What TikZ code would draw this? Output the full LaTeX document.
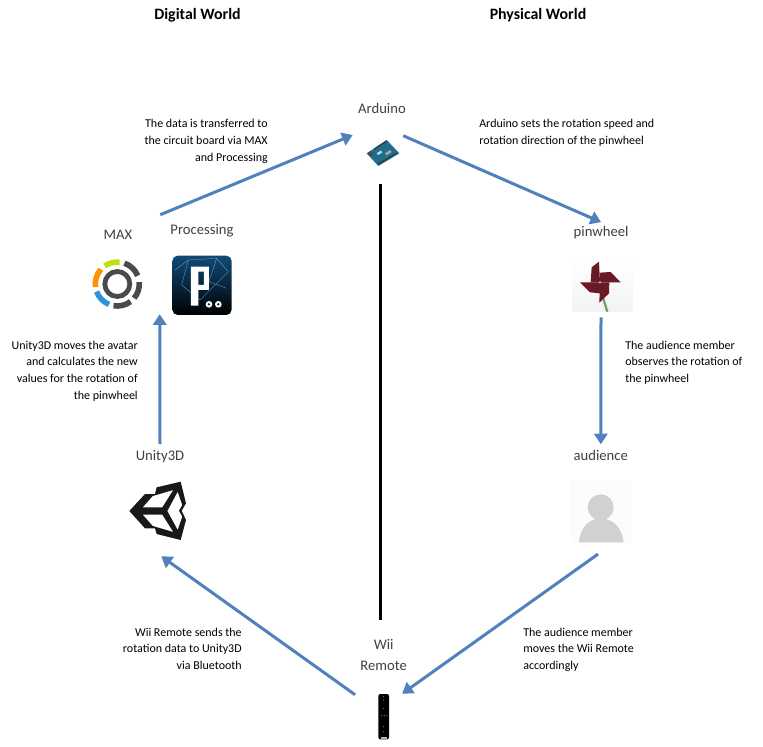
\documentclass[tikz,border=0pt]{standalone}
\usepackage{fontspec}
\setmainfont{Carlito}
\usepackage{xcolor}
\usetikzlibrary{arrows.meta, positioning}
\definecolor{flowblue}{HTML}{4F81BD}
\definecolor{namegray}{HTML}{404040}
\definecolor{boardteal}{HTML}{1F6C8C}
\definecolor{wheelred}{HTML}{6A1A26}
\definecolor{maxdark}{HTML}{4A4A4A}
\definecolor{processnavy}{HTML}{0F4A78}
\definecolor{stemgreen}{HTML}{7F9A6A}

\begin{document}
\begin{tikzpicture}[
        x=0.75pt, y=-0.75pt,
        worldtitle/.style = {inner sep=0pt, font=\fontsize{11.9}{14}\selectfont\bfseries},
        namelabel/.style = {inner sep=0pt, align=center, text=namegray, font=\fontsize{11}{15.75}\selectfont},
        caption/.style = {inner sep=0pt, font=\fontsize{9}{12.6}\selectfont},
        leftcaption/.style = {caption, anchor=north east, align=right},
        rightcaption/.style = {caption, anchor=north west, align=left},
        icon/.style = {inner sep=0pt, minimum width=#1},
        flow/.style = {draw=flowblue, line width=2.25pt, -{Triangle[length=8pt, width=10pt]}},
        divider/.style = {draw=black, line width=2.25pt},
        zoomed/.style = {shift={#1}, scale=0.3333}
    ]
        \useasboundingbox (0,0) rectangle (763,746);

        % World Titles
        \node (digital) [worldtitle] at (197.5,15.5) {Digital World};
        \node (physical) [worldtitle] at (538,15.5) {Physical World};

        % Icon Places
        \node (arduino) [icon=25.5pt, minimum height=21pt] at (383,153) {};
        \node (maxicon) [icon=39pt, minimum height=39pt] at (117.3,284) {};
        \node (processing) [icon=45pt, minimum height=45pt] at (202,285.3) {};
        \node (pinwheel) [icon=45pt, minimum height=39pt] at (602.7,285.5) {};
        \node (audience) [icon=46.5pt, minimum height=47pt] at (600.8,511) {};
        \node (unity) [icon=49.5pt, minimum height=45pt] at (160,511) {};
        \node (wii) [icon=8pt, minimum height=34.5pt] at (383.7,716.7) {};

        % Names
        \node (arduinolabel) [namelabel, above=18.8pt of arduino, xshift=-0.8pt] {Arduino};
        \node (maxlabel) [namelabel, above=13.3pt of maxicon, xshift=0.5pt] {MAX};
        \node (processinglabel) [namelabel, above=13pt of processing] {Processing};
        \node (pinwheellabel) [namelabel, above=15pt of pinwheel, xshift=-1.2pt] {pinwheel};
        \node (audiencelabel) [namelabel, above=13.7pt of audience] {audience};
        \node (unitylabel) [namelabel, above=13.2pt of unity] {Unity3D};
        \node (wiilabel) [namelabel, above=17pt of wii] {Wii\\Remote};

        % Captions
        \node (datacaption) [leftcaption] at (268,119) {The data is transferred to\\the circuit board via MAX\\and Processing};
        \node (unitycaption) [leftcaption] at (138,340.5) {Unity3D moves the avatar\\and calculates the new\\values for the rotation of\\the pinwheel};
        \node (bluecaption) [leftcaption] at (242,627.5) {Wii Remote sends the\\rotation data to Unity3D\\via Bluetooth};
        \node (speedcaption) [rightcaption] at (479,119) {Arduino sets the rotation speed and\\rotation direction of the pinwheel};
        \node (observecaption) [rightcaption] at (625,340.5) {The audience member\\observes the rotation of\\the pinwheel};
        \node (movecaption) [rightcaption] at (523,627.5) {The audience member\\moves the Wii Remote\\accordingly};

        % Arduino board
        \begin{scope}[zoomed={(340,90)}]
            \fill[boardteal] (80,190) -- (140,150) -- (178,190) -- (115,228) -- cycle;
            \draw[black!80, line width=0.8pt] (102,178) -- (140,153);
            \draw[black!80, line width=0.8pt] (115,222) -- (170,190);
            \fill[black!70] (82,190) -- (92,183) -- (100,192) -- (90,199) -- cycle;
            \fill[gray!70] (135,190) -- (150,180) -- (155,186) -- (140,196) -- cycle;
            \fill[white!75!boardteal] (110,190) -- (122,182) -- (127,187) -- (115,195) -- cycle;
        \end{scope}

        % MAX logo
        \begin{scope}[shift={(maxicon)}, y=0.75pt, line width=4.2pt]
            \draw[maxdark, line width=3.6pt] (0,0) circle (12.5);
            \draw[maxdark] (71:22) arc (71:22:22);
            \draw[maxdark] (5:22) arc (5:-40:22);
            \draw[maxdark] (-53:22) arc (-53:-100:22);
            \draw[yellow!75!green] (125:22) arc (125:84:22);
            \draw[orange!85!yellow] (138:22) arc (138:188:22);
            \draw[cyan!70!blue!85] (200:22) arc (200:248:22);
        \end{scope}

        % Processing logo
        \begin{scope}[zoomed={(60,210)}]
            \shade[top color=processnavy, bottom color=black, rounded corners=4pt] (337,137) rectangle (515,315);
            \draw[white!55!processnavy, line width=0.2pt] (345,180) -- (385,150) -- (470,145) -- (505,185);
            \draw[white!55!processnavy, line width=0.2pt] (385,150) -- (365,225) -- (420,270) -- (505,185);
            \draw[white!55!processnavy, line width=0.2pt] (470,145) -- (447,215) -- (500,235);
            \fill[white, even odd rule] (393,287) -- (393,170) -- (447,170) -- (447,240) -- (415,240) -- (415,287) -- cycle
                (415,185) rectangle (432,225);
            \foreach \dotx in {447,475} {
                \fill[white] (\dotx,283) circle (10);
                \fill[black!85] (\dotx,283) circle (4);
            }
        \end{scope}

        % Pinwheel
        \begin{scope}[zoomed={(550,250)}]
            \shade[top color=white, bottom color=black!5] (68,28) rectangle (248,185);
            \draw[stemgreen, line width=1.7pt] (155,130) -- (172,185);
            \fill[wheelred] (150,97) -- (147,35) -- (125,52) -- (122,97) -- cycle;
            \fill[wheelred] (150,97) -- (212,97) -- (182,66) -- (150,68) -- cycle;
            \fill[wheelred] (150,97) -- (148,158) -- (177,130) -- (178,97) -- cycle;
            \fill[wheelred] (150,97) -- (90,97) -- (120,127) -- (150,130) -- cycle;
            \fill[white!70!black] (150,97) circle (4);
        \end{scope}

        % Audience figure
        \begin{scope}[zoomed={(560,480)}]
            \fill[black!1] (30,0) rectangle (215,188);
            \fill[black!18] (122,82) circle (39);
            \fill[black!18] (57,187) .. controls (60,140) and (90,115) .. (122,115) .. controls (155,115) and (187,140) .. (190,187) -- cycle;
        \end{scope}

        % Unity logo
        \begin{scope}[zoomed={(110,470)}]
            \fill[black!90, even odd rule] (58,123) -- (105,72) -- (135,72) -- (140,52) -- (212,35) -- (228,100) -- (215,122) -- (228,150) -- (212,210) -- (140,192) -- (135,175) -- (105,175) -- cycle
                (98,112) -- (128,78) -- (190,60) -- (157,112) -- cycle
                (98,134) -- (157,134) -- (190,186) -- (128,168) -- cycle
                (172,123) -- (203,65) -- (217,105) -- (207,122) -- (217,140) -- (203,180) -- cycle;
        \end{scope}

        % Wii Remote
        \begin{scope}[zoomed={(340,680)}]
            \fill[black, rounded corners=1.5pt] (115,42) rectangle (147,178);
            \foreach \buttonx/\buttony in {131/50, 131/60, 131/85, 125/107, 133/107, 141/107, 131/140, 131/155} {
                \fill[black!55] (\buttonx,\buttony) circle (2);
            }
            \fill[black!30] (122,172) rectangle (140,176);
        \end{scope}

        % Connections
        \draw [flow] ([shift={(-23,1.3)}]wii.north west) -- ([shift={(-32,15)}]unity.south east);
        \draw [flow] ([shift={(0,-6)}]unitylabel.north) -- ([shift={(-12,-1.3)}]processing.south west);
        \draw [flow] ([shift={(16.7,-43)}]maxicon.north east) -- ([shift={(-13,-18)}]arduino.west);
        \draw [flow] ([shift={(3,-3)}]arduino.north east) -- ([shift={(0,-4)}]pinwheellabel.north);
        \draw [flow] ([shift={(-1.7,5.5)}]pinwheel.south) -- ([shift={(0,-6)}]audiencelabel.north);
        \draw [flow] ([shift={(-2.8,11.5)}]audience.south) -- ([shift={(12.8,0.3)}]wii.north east);
        \draw [divider] ([shift={(-3,17)}]arduino.south) -- ([shift={(-3.7,-19)}]wiilabel.north);

    \end{tikzpicture}
\end{document}
